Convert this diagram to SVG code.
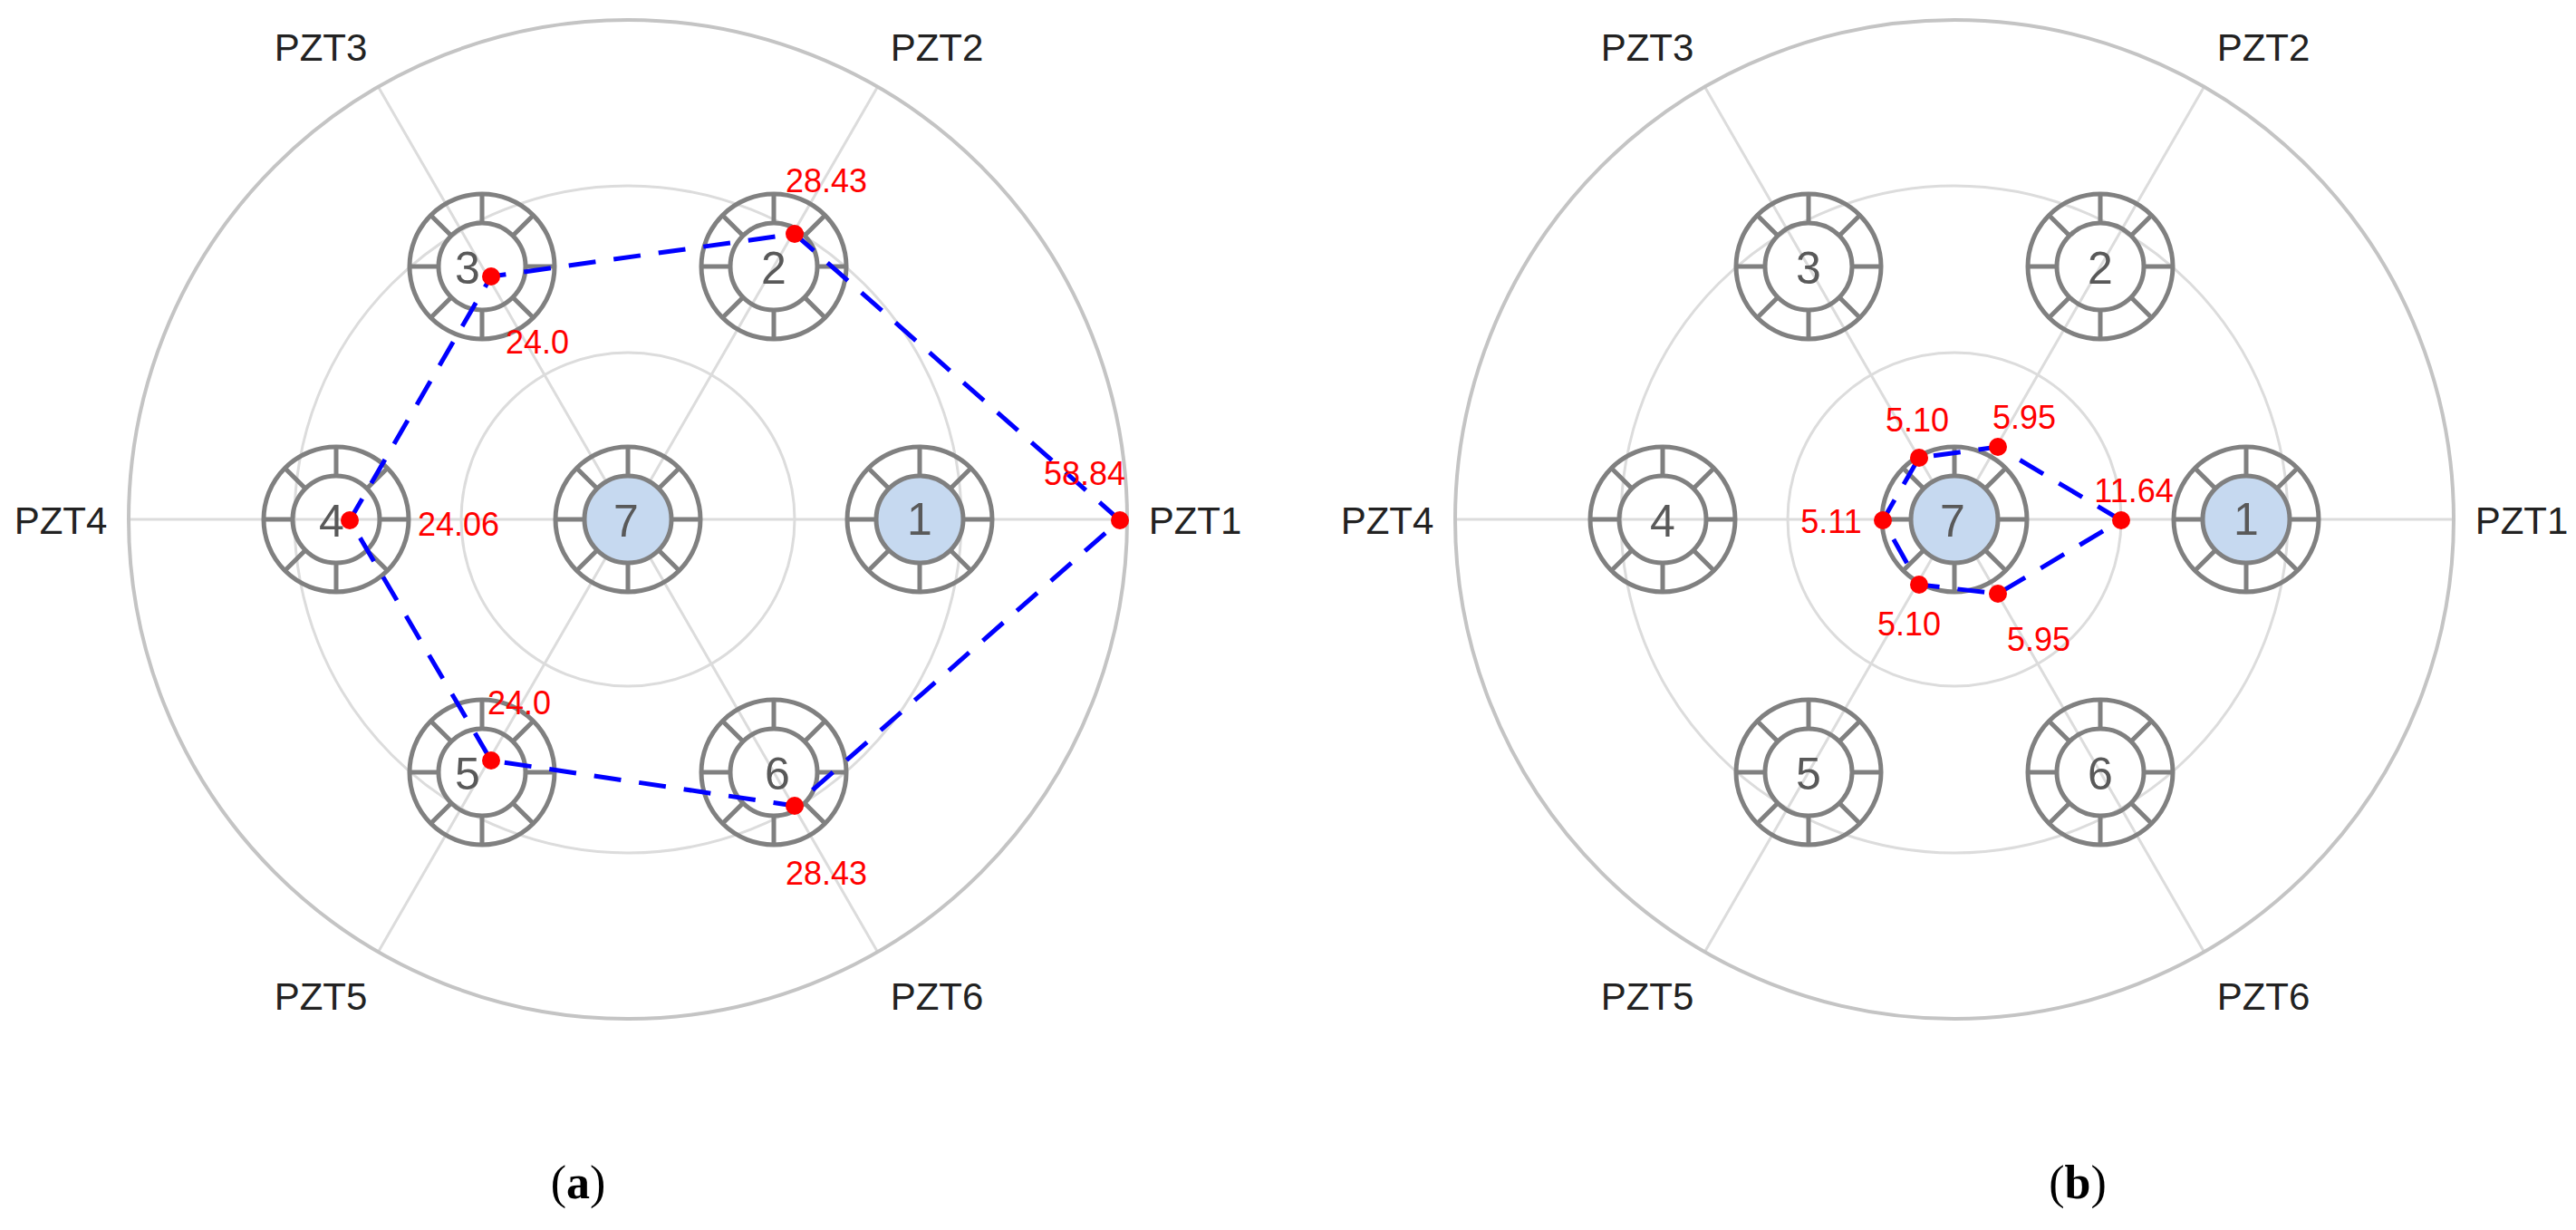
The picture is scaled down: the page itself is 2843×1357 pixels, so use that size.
<svg xmlns="http://www.w3.org/2000/svg" width="2843" height="1357" viewBox="0 0 2843 1357">
<style>
.grid{fill:none;stroke:#dcdcdc;stroke-width:3}
.outer{fill:none;stroke:#c4c4c4;stroke-width:4}
.ring{fill:none;stroke:#808080;stroke-width:5}
.pzt{font-family:"Liberation Sans",Arial,sans-serif;font-size:42px;fill:#222;text-anchor:middle;dominant-baseline:central}
.num{font-family:"Liberation Sans",Arial,sans-serif;font-size:50px;fill:#595959;text-anchor:middle;dominant-baseline:central}
.val{font-family:"Liberation Sans",Arial,sans-serif;font-size:36px;fill:#ff0000;text-anchor:middle;dominant-baseline:central}
.path{fill:none;stroke:#0000ff;stroke-width:5;stroke-dasharray:30 20}
.dot{fill:#ff0000}
.cap{font-family:"Liberation Serif","Times New Roman",serif;font-size:52px;fill:#000;text-anchor:middle}
</style>
<defs>
<g id="ringShape">
<circle r="80" class="ring"/>
<circle r="48" class="ring"/>
<path class="ring" d="M48 0H80M-48 0H-80M0 48V80M0 -48V-80M33.9 33.9L56.6 56.6M-33.9 33.9L-56.6 56.6M33.9 -33.9L56.6 -56.6M-33.9 -33.9L-56.6 -56.6"/>
</g>
<g id="axes">
<circle r="184" class="grid"/>
<circle r="368" class="grid"/>
<path class="grid" d="M-551 0H551M0 0L276 -478M0 0L-276 -478M0 0L-276 478M0 0L276 478"/>
<circle r="551" class="outer"/>
</g>
</defs>

<g id="panel-a">
<use href="#axes" x="693" y="573"/>
<g id="labels-a">
<text class="pzt" x="1319" y="574">PZT1</text>
<text class="pzt" x="1034" y="52">PZT2</text>
<text class="pzt" x="354" y="52">PZT3</text>
<text class="pzt" x="67" y="574">PZT4</text>
<text class="pzt" x="354" y="1099">PZT5</text>
<text class="pzt" x="1034" y="1099">PZT6</text>
</g>
<g id="a-node1"><circle cx="1015" cy="573" r="48" fill="#c6d9f0"/><use href="#ringShape" x="1015" y="573"/><text class="num" x="1015" y="573">1</text></g>
<g id="a-node2"><use href="#ringShape" x="854" y="294"/><text class="num" x="854" y="296">2</text></g>
<g id="a-node3"><use href="#ringShape" x="532" y="294"/><text class="num" x="516" y="296">3</text></g>
<g id="a-node4"><use href="#ringShape" x="371" y="573"/><text class="num" x="366" y="575">4</text></g>
<g id="a-node5"><use href="#ringShape" x="532" y="852"/><text class="num" x="516" y="854">5</text></g>
<g id="a-node6"><use href="#ringShape" x="854" y="852"/><text class="num" x="858" y="854">6</text></g>
<g id="a-node7"><circle cx="693" cy="573" r="48" fill="#c6d9f0"/><use href="#ringShape" x="693" y="573"/><text class="num" x="691" y="575">7</text></g>
<g id="connectors-a">
<polygon class="path" points="1236,574 877,258 542,305 386,574 542,839 877,889"/>
</g>
<g id="points-a">
<circle class="dot" cx="1236" cy="574" r="10"/>
<circle class="dot" cx="877" cy="258" r="10"/>
<circle class="dot" cx="542" cy="305" r="10"/>
<circle class="dot" cx="386" cy="574" r="10"/>
<circle class="dot" cx="542" cy="839" r="10"/>
<circle class="dot" cx="877" cy="889" r="10"/>
<text class="val" x="1197" y="522">58.84</text>
<text class="val" x="912" y="199">28.43</text>
<text class="val" x="593" y="377">24.0</text>
<text class="val" x="506" y="578">24.06</text>
<text class="val" x="573" y="775">24.0</text>
<text class="val" x="912" y="963">28.43</text>
</g>
<text class="cap" x="638" y="1322">(<tspan font-weight="bold">a</tspan>)</text>
</g>

<g id="panel-b">
<use href="#axes" x="2157" y="573"/>
<g id="labels-b">
<text class="pzt" x="2783" y="574">PZT1</text>
<text class="pzt" x="2498" y="52">PZT2</text>
<text class="pzt" x="1818" y="52">PZT3</text>
<text class="pzt" x="1531" y="574">PZT4</text>
<text class="pzt" x="1818" y="1099">PZT5</text>
<text class="pzt" x="2498" y="1099">PZT6</text>
</g>
<g id="b-node1"><circle cx="2479" cy="573" r="48" fill="#c6d9f0"/><use href="#ringShape" x="2479" y="573"/><text class="num" x="2479" y="573">1</text></g>
<g id="b-node2"><use href="#ringShape" x="2318" y="294"/><text class="num" x="2318" y="296">2</text></g>
<g id="b-node3"><use href="#ringShape" x="1996" y="294"/><text class="num" x="1996" y="296">3</text></g>
<g id="b-node4"><use href="#ringShape" x="1835" y="573"/><text class="num" x="1835" y="575">4</text></g>
<g id="b-node5"><use href="#ringShape" x="1996" y="852"/><text class="num" x="1996" y="854">5</text></g>
<g id="b-node6"><use href="#ringShape" x="2318" y="852"/><text class="num" x="2318" y="854">6</text></g>
<g id="b-node7"><circle cx="2157" cy="573" r="48" fill="#c6d9f0"/><use href="#ringShape" x="2157" y="573"/><text class="num" x="2155" y="575">7</text></g>
<g id="connectors-b">
<polygon class="path" points="2341,574 2205,493 2118,505 2078,574 2118,645 2205,655"/>
</g>
<g id="points-b">
<circle class="dot" cx="2341" cy="574" r="10"/>
<circle class="dot" cx="2205" cy="493" r="10"/>
<circle class="dot" cx="2118" cy="505" r="10"/>
<circle class="dot" cx="2078" cy="574" r="10"/>
<circle class="dot" cx="2118" cy="645" r="10"/>
<circle class="dot" cx="2205" cy="655" r="10"/>
<text class="val" x="2355" y="541">11.64</text>
<text class="val" x="2234" y="460">5.95</text>
<text class="val" x="2116" y="463">5.10</text>
<text class="val" x="2021" y="575">5.11</text>
<text class="val" x="2107" y="688">5.10</text>
<text class="val" x="2250" y="705">5.95</text>
</g>
<text class="cap" x="2293" y="1322">(<tspan font-weight="bold">b</tspan>)</text>
</g>
</svg>
